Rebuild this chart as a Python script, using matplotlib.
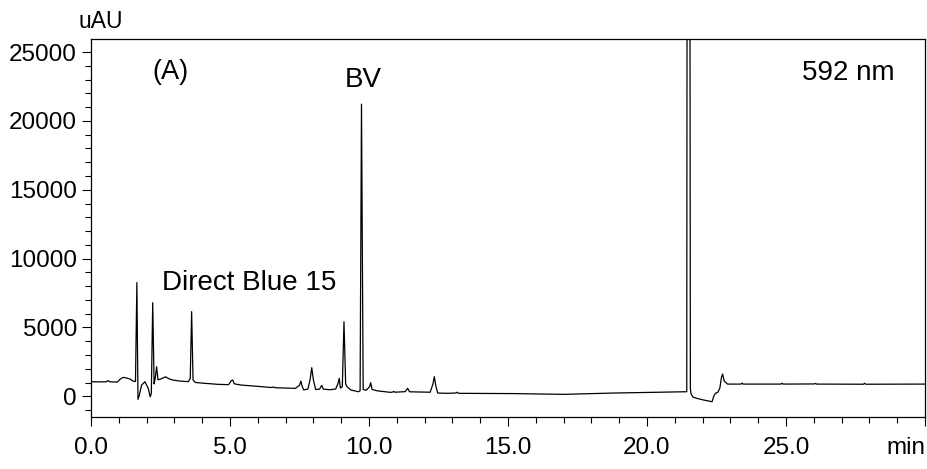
import matplotlib
matplotlib.use("Agg")
import matplotlib.pyplot as plt
from matplotlib.ticker import MultipleLocator

plt.rcParams['font.family'] = ['Liberation Sans', 'DejaVu Sans']

# Chromatogram trace: time (min), signal (uAU)
time_min = [0.00, 0.40, 0.55, 0.62, 0.68, 0.95, 1.05, 1.16, 1.28, 1.40, 1.52, 1.60,
            1.65, 1.69, 1.74, 1.82, 1.94, 2.06, 2.13, 2.17, 2.22, 2.27, 2.31, 2.36,
            2.41, 2.50, 2.68, 2.80, 2.95, 3.20, 3.50, 3.57, 3.62, 3.67, 3.75, 4.00,
            4.58, 4.95, 5.05, 5.10, 5.15, 5.25, 5.40, 5.85, 6.50, 6.57, 6.62, 7.35,
            7.50, 7.55, 7.60, 7.65, 7.80, 7.88, 7.94, 8.00, 8.08, 8.22, 8.30, 8.36,
            8.60, 8.80, 8.88, 8.93, 8.97, 9.04, 9.10, 9.16, 9.21, 9.35, 9.62, 9.68,
            9.73, 9.79, 9.90, 10.02, 10.06, 10.11, 10.30, 10.77, 10.85, 10.89, 10.93,
            11.30, 11.39, 11.46, 12.20, 12.30, 12.35, 12.40, 12.47, 12.80, 13.12,
            13.17, 13.22, 15.20, 17.00, 18.80, 21.38, 21.43, 21.485, 21.56, 21.58,
            21.65, 21.80, 22.00, 22.20, 22.34, 22.40, 22.46, 22.55, 22.62, 22.68,
            22.72, 22.78, 22.90, 23.38, 23.42, 23.46, 24.82, 24.86, 24.90, 26.02,
            26.06, 26.10, 27.79, 27.83, 27.87, 30.00]
signal_uau = [1060, 1050, 1060, 1140, 1050, 1040, 1250, 1380, 1330, 1260, 1100, 1080,
              8260, -220, 100, 820, 1060, 580, -30, 200, 6800, 900, 1300, 2150,
              1200, 1250, 1420, 1280, 1180, 1110, 1070, 1300, 6150, 1200, 1010, 960,
              870, 850, 1150, 1185, 920, 870, 820, 750, 640, 680, 625, 580,
              800, 1110, 700, 470, 520, 1200, 2080, 1200, 500, 520, 800, 520,
              480, 530, 900, 1310, 600, 700, 5420, 900, 700, 460, 335, 400,
              21220, 500, 440, 700, 990, 500, 400, 290, 310, 360, 300,
              340, 580, 330, 300, 900, 1430, 800, 240, 220, 240,
              300, 220, 200, 145, 240, 335, 335, 150000, 600, 200,
              -50, -150, -250, -330, -390, 0, 220, 300, 600, 1400,
              1620, 1100, 890, 890, 960, 890, 890, 950, 890, 900,
              940, 890, 880, 950, 880, 890]

x_tick_values = [0, 5, 10, 15, 20, 25, 30]
x_tick_labels = ['0.0', '5.0', '10.0', '15.0', '20.0', '25.0', 'min']
y_tick_values = [0, 5000, 10000, 15000, 20000, 25000]

fig = plt.figure(figsize=(9.28, 4.69), dpi=100)
ax = fig.add_axes([91/928, 1 - 417/469, (925 - 91)/928, (417 - 39)/469])

ax.plot(time_min, signal_uau, color='black', lw=0.9)

ax.set_xlim(0, 30)
ax.set_ylim(-1500, 25950)

ax.set_xticks(x_tick_values)
ax.set_xticklabels(x_tick_labels)
ax.set_yticks(y_tick_values)
ax.set_yticklabels([str(v) for v in y_tick_values])
ax.xaxis.set_minor_locator(MultipleLocator(1))
ax.yaxis.set_minor_locator(MultipleLocator(1000))

ax.tick_params(axis='x', which='major', direction='out', length=6.5, width=0.8,
               labelsize=17.5, pad=8)
ax.tick_params(axis='x', which='minor', direction='out', length=4.3, width=0.8)
ax.tick_params(axis='y', which='major', direction='out', length=6.5, width=0.8,
               labelsize=17.5, pad=3.5)
ax.tick_params(axis='y', which='minor', direction='out', length=4.3, width=0.8)
ax.get_xticklabels()[-1].set_horizontalalignment('right')

for s in ax.spines.values():
    s.set_linewidth(0.9)

fig.text(101/928, 1 - 21.5/469, 'uAU', fontsize=16.5, ha='center', va='center')

ax.text(2.19, 23040, '(A)', fontsize=19.5, ha='left', va='baseline')
ax.text(9.78, 22480, 'BV', fontsize=20, ha='center', va='baseline')
ax.text(2.56, 7725, 'Direct Blue 15', fontsize=20, ha='left', va='baseline')
ax.text(25.59, 23000, '592 nm', fontsize=20, ha='left', va='baseline')

fig.savefig('out.png', dpi=100)
